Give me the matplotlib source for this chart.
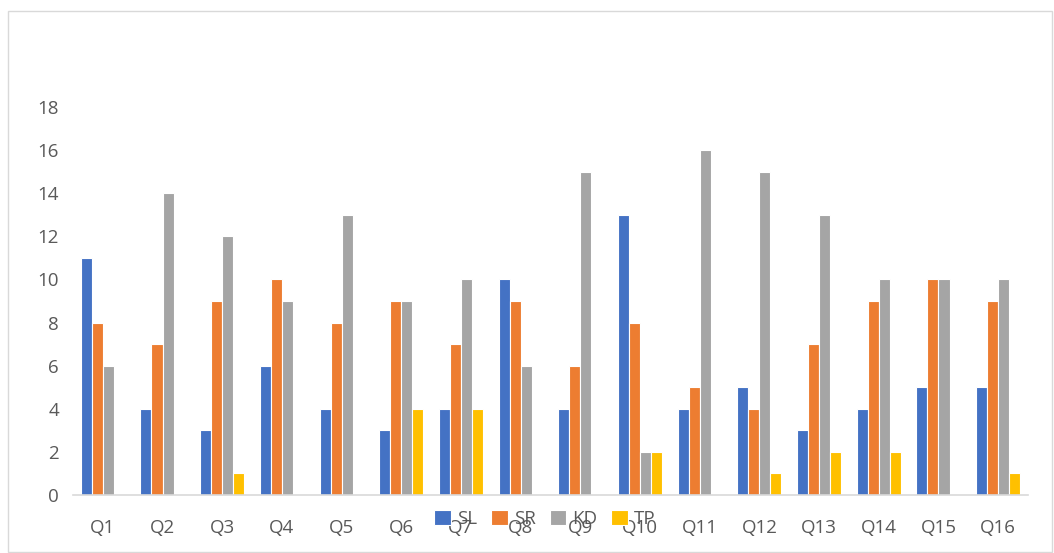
import numpy as np
import matplotlib.pyplot as plt
from matplotlib.patches import Rectangle

# Data
questions = ['Q' + str(i) for i in range(1, 17)]
sl = [11, 4, 3, 6, 4, 3, 4, 10, 4, 13, 4, 5, 3, 4, 5, 5]
sr = [8, 7, 9, 10, 8, 9, 7, 9, 6, 8, 5, 4, 7, 9, 10, 9]
kd = [6, 14, 12, 9, 13, 9, 10, 6, 15, 2, 16, 15, 13, 10, 10, 10]
tp = [0, 0, 1, 0, 0, 4, 4, 0, 0, 2, 0, 1, 2, 2, 0, 1]
series = [('SL', sl, '#4472C4'), ('SR', sr, '#ED7D31'),
          ('KD', kd, '#A5A5A5'), ('TP', tp, '#FFC000')]

plt.rcParams['font.family'] = ['Open Sans', 'DejaVu Sans']

fig = plt.figure(figsize=(10.54, 5.53), dpi=100)
ax = fig.add_axes([73/1054, 58/553, 955/1054, 388/553])

x = np.arange(len(questions))
pitch = 0.185
for i, (name, vals, color) in enumerate(series):
    ax.bar(x + (i - 1.5) * pitch, vals, width=pitch, color=color,
           edgecolor='white', linewidth=0.8, label=name)

ax.set_xlim(-0.5, 15.5)
ax.set_ylim(0, 18)
ax.set_yticks(range(0, 19, 2))
ax.set_xticks(x)
ax.set_xticklabels(questions)
ax.tick_params(axis='both', length=0, labelsize=13.5, colors='#595959')
ax.tick_params(axis='x', pad=17)
ax.tick_params(axis='y', pad=10)
for s in ['top', 'right', 'left']:
    ax.spines[s].set_visible(False)
ax.spines['bottom'].set_color('#D9D9D9')
ax.spines['bottom'].set_linewidth(1.2)

# legend sits on top of the x labels, as in the original
fig.legend(loc='center', bbox_to_anchor=(0.517, 34/553), ncol=4,
           frameon=False, fontsize=13.5, handlelength=0.9, handleheight=0.9,
           columnspacing=0.75, handletextpad=0.3, labelcolor='#595959')

fig.patches.append(Rectangle((8/1054, 1/553), 1044/1054, 541/553,
                             transform=fig.transFigure, fill=False,
                             edgecolor='#D9D9D9', linewidth=1))

fig.savefig('out.png', dpi=100)
